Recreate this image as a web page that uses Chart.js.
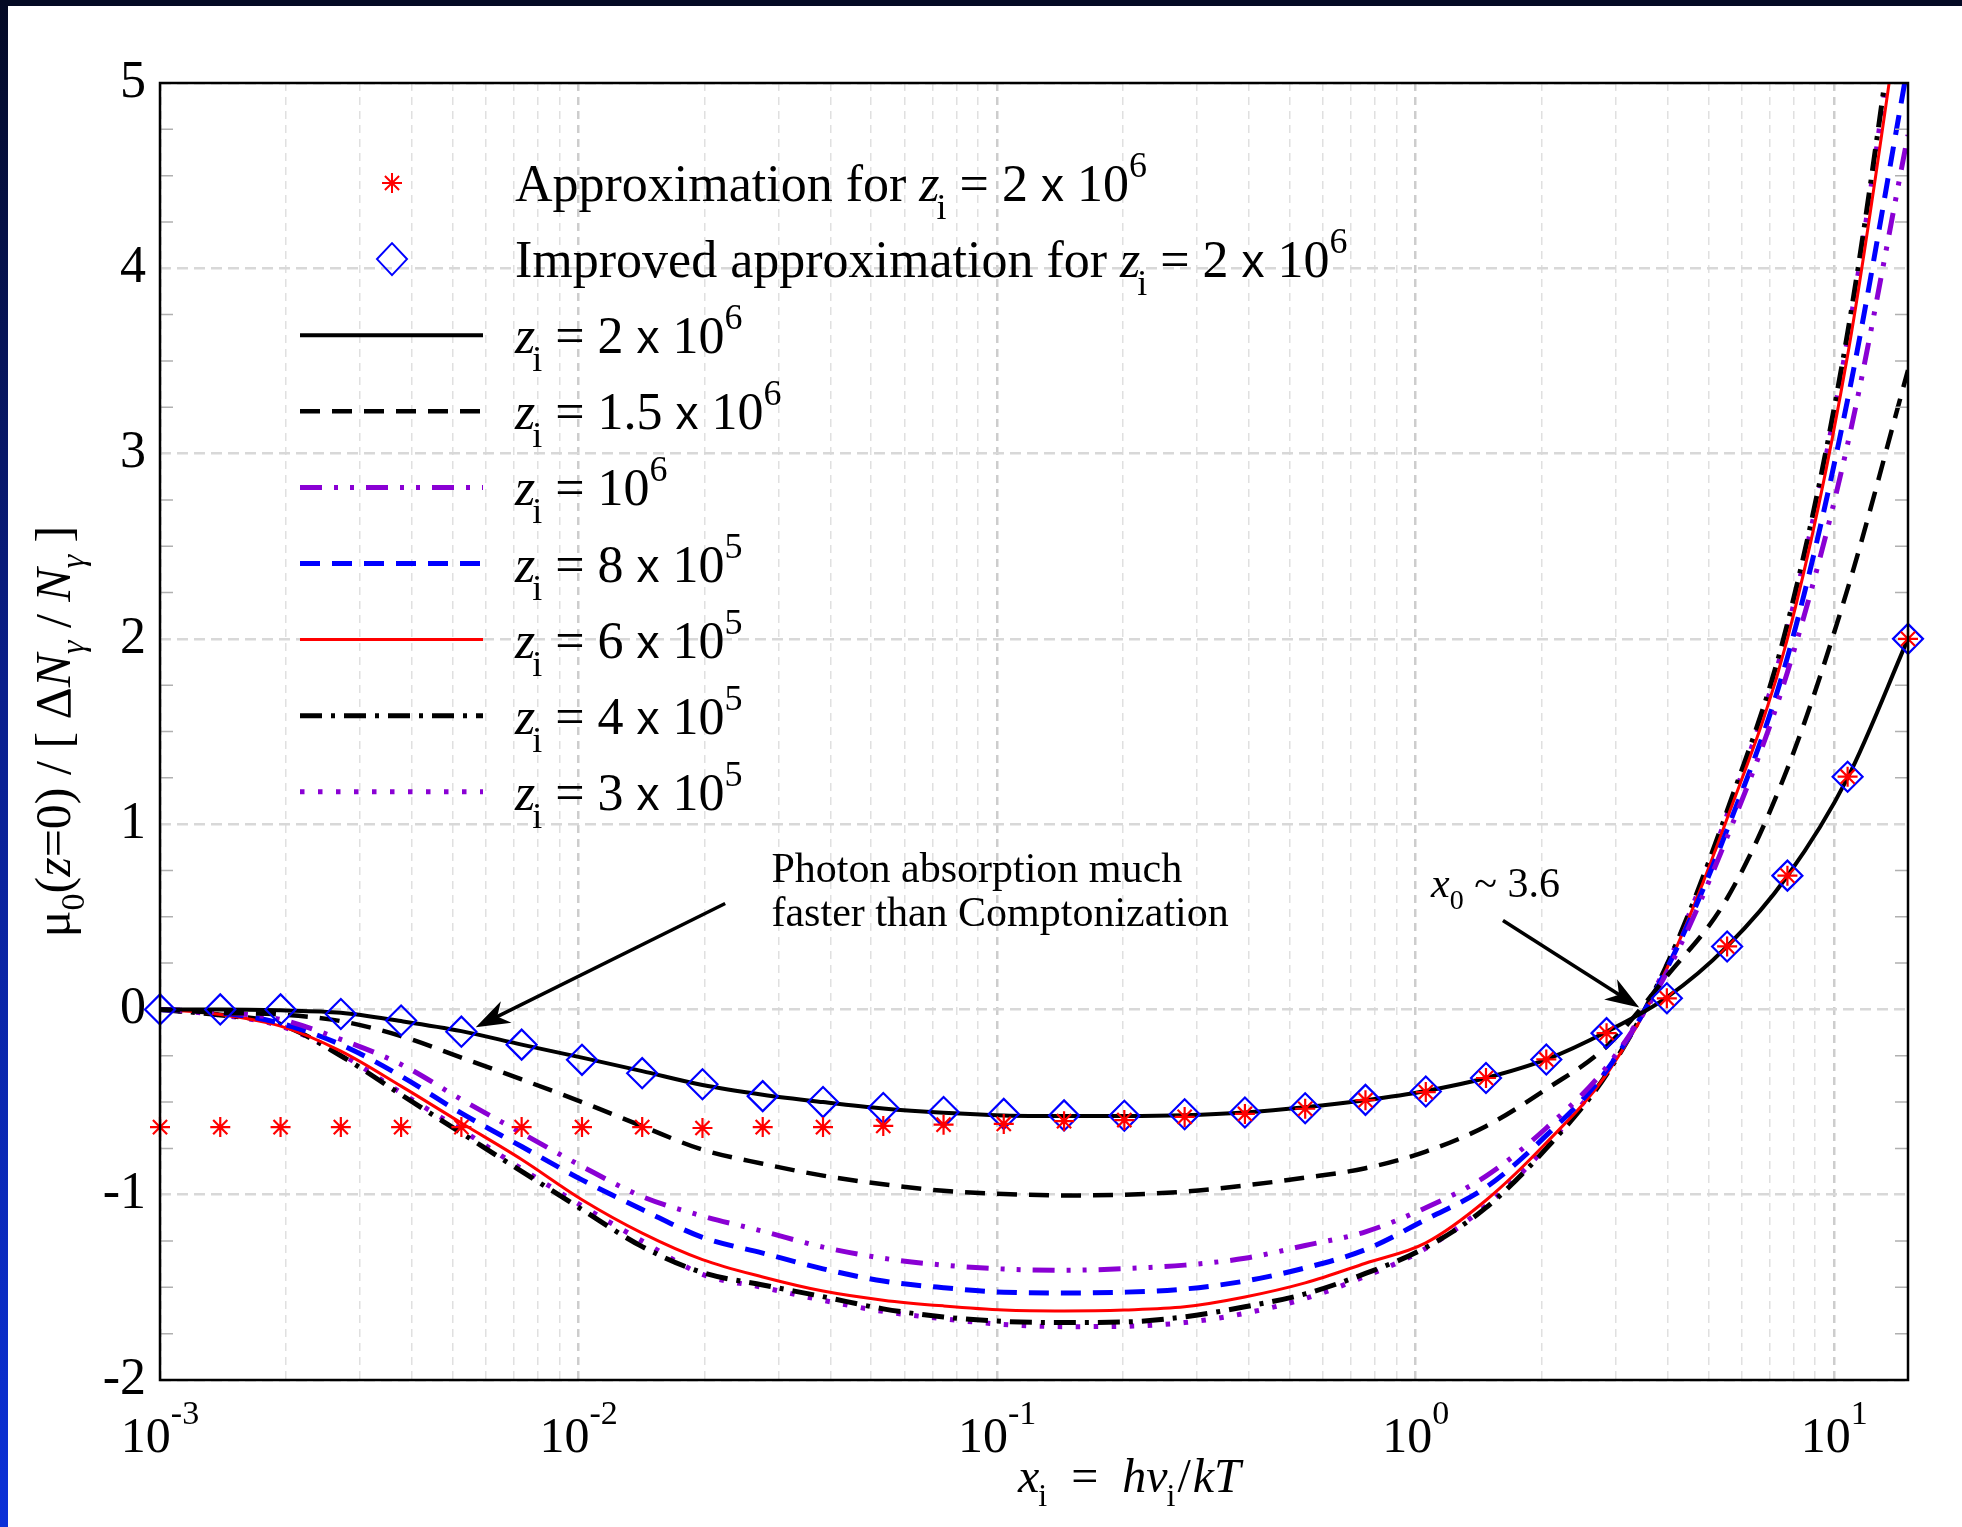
<!DOCTYPE html>
<html>
<head>
<meta charset="utf-8">
<script src="https://cdn.jsdelivr.net/npm/chart.js@4.4.1/dist/chart.umd.min.js"></script>
<style>
  html, body { margin: 0; padding: 0; background: #fff; }
  #wrap { position: relative; width: 1962px; height: 1527px; overflow: hidden; background: #fff; }
  #wrap canvas { position: absolute; left: 0; top: 0; }
  #bandTop { position: absolute; left: 0; top: 0; width: 1962px; height: 6px; background: #040a24; }
  #bandLeft { position: absolute; left: 0; top: 0; width: 8px; height: 1527px; background: linear-gradient(#040a24, #0a1f8c 45%, #0b31d8); }
</style>
</head>
<body>
<div id="wrap">
  <canvas id="chart" width="1962" height="1527"></canvas>
  <div id="bandTop"></div>
  <div id="bandLeft"></div>
</div>
<script>
// x_i = h nu_i / kT sample points (log spaced)
const xi = [0.001, 0.001393, 0.001941, 0.002704, 0.003767, 0.005248, 0.007311, 0.01019, 0.01419, 0.01977,
  0.02754, 0.03837, 0.05345, 0.07447, 0.1037, 0.1445, 0.2013, 0.2805, 0.3908, 0.5444,
  0.7585, 1.057, 1.472, 2.051, 2.857, 3.981, 5.546, 7.727, 10.76, 15.0]

const approx = [-0.635, -0.635, -0.635, -0.635, -0.635, -0.635, -0.635, -0.635, -0.635, -0.64,
  -0.635, -0.635, -0.629, -0.622, -0.618, -0.603, -0.597, -0.58, -0.564, -0.536,
  -0.49, -0.446, -0.37, -0.27, -0.128, 0.06, 0.34, 0.722, 1.256, 2.0]
const improved = [0, 0, 0, -0.025, -0.06, -0.12, -0.19, -0.272, -0.344, -0.404,
  -0.468, -0.5, -0.532, -0.554, -0.564, -0.572, -0.574, -0.566, -0.556, -0.533,
  -0.488, -0.443, -0.37, -0.27, -0.128, 0.06, 0.34, 0.722, 1.256, 2.0]

const z2e6 = [0, 0, -0.005, -0.018, -0.063, -0.117, -0.19, -0.26, -0.333, -0.408,
  -0.46, -0.5, -0.535, -0.558, -0.572, -0.575, -0.575, -0.571, -0.556, -0.528,
  -0.49, -0.44, -0.37, -0.27, -0.12, 0.065, 0.34, 0.72, 1.25, 2.0]
const z15e6 = [0, -0.018, -0.027, -0.063, -0.144, -0.26, -0.378, -0.5, -0.63, -0.757,
  -0.833, -0.897, -0.944, -0.979, -0.996, -1.004, -1.0, -0.983, -0.95, -0.908,
  -0.857, -0.767, -0.63, -0.43, -0.2, 0.18, 0.6, 1.3, 2.27, 3.45]
const z1e6 = [0, -0.015, -0.054, -0.162, -0.297, -0.486, -0.667, -0.847, -1.01, -1.115,
  -1.197, -1.283, -1.343, -1.38, -1.401, -1.408, -1.399, -1.38, -1.343, -1.274,
  -1.2, -1.07, -0.9, -0.64, -0.31, 0.2, 0.93, 1.82, 3.05, 4.72]
const z8e5 = [0, -0.018, -0.075, -0.19, -0.36, -0.56, -0.74, -0.92, -1.08, -1.23,
  -1.315, -1.4, -1.466, -1.502, -1.526, -1.53, -1.526, -1.509, -1.466, -1.395,
  -1.296, -1.134, -0.96, -0.68, -0.33, 0.22, 0.97, 1.9, 3.29, 5.1]
const z6e5 = [0, -0.027, -0.09, -0.225, -0.414, -0.613, -0.81, -1.027, -1.207, -1.35,
  -1.444, -1.52, -1.569, -1.6, -1.622, -1.627, -1.622, -1.605, -1.552, -1.476,
  -1.37, -1.26, -1.03, -0.72, -0.35, 0.22, 1.03, 2.0, 3.53, 5.7]
const z4e5 = [0, -0.03, -0.08, -0.25, -0.46, -0.667, -0.874, -1.08, -1.28, -1.42,
  -1.487, -1.55, -1.616, -1.66, -1.684, -1.69, -1.687, -1.659, -1.605, -1.535,
  -1.425, -1.285, -1.07, -0.75, -0.35, 0.24, 1.07, 2.08, 3.65, 5.9]
const z3e5 = [0, -0.03, -0.09, -0.24, -0.45, -0.65, -0.86, -1.06, -1.25, -1.43,
  -1.5, -1.57, -1.63, -1.67, -1.7, -1.712, -1.71, -1.69, -1.64, -1.56,
  -1.44, -1.29, -1.06, -0.74, -0.33, 0.24, 1.05, 2.05, 3.62, 5.85]

// legend text: prefix, mantissa, power of ten
const legendPrefix = ['Approximation for ', 'Improved approximation for ', '', '', '', '', '', '', '']
const legendMantissa = ['2', '2', '2', '1.5', '', '8', '6', '4', '3']
const legendExponent = ['6', '6', '6', '6', '6', '5', '5', '5', '5']

// x axis decade labels
const xLabelValues = [0.001, 0.01, 0.1, 1, 10]
const xLabelExponents = ['-3', '-2', '-1', '0', '1']

const SERIF = '"Liberation Serif", "Times New Roman", Times, serif'
const SANS = '"Liberation Sans", Arial, sans-serif'
const rom = s => s + 'px ' + SERIF
const ita = s => 'italic ' + s + 'px ' + SERIF

const pts = ys => xi.map((x, k) => ({ x: x, y: ys[k] }))

// parts: [text, font, dy, kern]
function drawRich(ctx, x, y, parts) {
  let cx = x
  for (const p of parts) {
    ctx.font = p[1]
    cx += (p[3] || 0)
    ctx.fillText(p[0], cx, y + (p[2] || 0))
    cx += ctx.measureText(p[0]).width
  }
  return cx
}

function richWidth(ctx, parts) {
  let w = 0
  for (const p of parts) {
    ctx.font = p[1]
    w += ctx.measureText(p[0]).width + (p[3] || 0)
  }
  return w
}

function zParts(prefix, mant, exp) {
  const parts = []
  if (prefix) parts.push([prefix, rom(52)])
  parts.push(['z', ita(52)], ['i', rom(36), 18, -3], [' = ', rom(52)])
  if (mant) parts.push([mant + ' ', rom(52)], ['x', '46px ' + SANS], [' ', rom(52)])
  parts.push(['10', rom(52)], [exp, rom(36), -24])
  return parts
}

function arrow(ctx, x1, y1, x2, y2) {
  const a = Math.atan2(y2 - y1, x2 - x1)
  ctx.beginPath()
  ctx.moveTo(x1, y1)
  ctx.lineTo(x2 - 20 * Math.cos(a), y2 - 20 * Math.sin(a))
  ctx.stroke()
  ctx.save()
  ctx.translate(x2, y2)
  ctx.rotate(a)
  ctx.beginPath()
  ctx.moveTo(0, 0)
  ctx.lineTo(-34, -12)
  ctx.lineTo(-24, 0)
  ctx.lineTo(-34, 12)
  ctx.closePath()
  ctx.fill()
  ctx.restore()
}

const decor = {
  id: 'decor',
  afterDraw(chart) {
    const { ctx, chartArea: area, scales: { x, y } } = chart
    ctx.save()

    // minor y ticks (both sides)
    ctx.strokeStyle = '#b0b0b0'
    ctx.lineWidth = 1.5
    for (let v = -2; v <= 5; v += 0.25) {
      if (Number.isInteger(v)) continue
      const py = y.getPixelForValue(v)
      ctx.beginPath()
      ctx.moveTo(area.left, py); ctx.lineTo(area.left + 13, py)
      ctx.moveTo(area.right - 13, py); ctx.lineTo(area.right, py)
      ctx.stroke()
    }

    // frame
    ctx.strokeStyle = '#000'
    ctx.lineWidth = 2.5
    ctx.strokeRect(area.left, area.top, area.right - area.left, area.bottom - area.top)

    // x tick labels 10^n
    ctx.fillStyle = '#000'
    ctx.textBaseline = 'alphabetic'
    xLabelValues.forEach((v, i) => {
      const parts = [['10', rom(50)], [xLabelExponents[i], rom(34), -28]]
      const w = richWidth(ctx, parts)
      drawRich(ctx, x.getPixelForValue(v) - w / 2, area.bottom + 72, parts)
    })

    // x title
    drawRich(ctx, area.left + 858, area.bottom + 112, [
      ['x', ita(48)], ['i', rom(32), 14, -1], ['=', rom(48), 0, 24],
      ['h', ita(48), 0, 24], ['\u03bd', ita(48)], ['i', rom(32), 14, -1], ['/', rom(48), 0, 2],
      ['k', ita(48), 0, 2], ['T', ita(48)]
    ])

    // y title (rotated)
    const yParts = [
      ['\u03bc', rom(50)], ['0', rom(34), 14], ['(', rom(50)], ['z', ita(50)], ['=0) / [ \u0394', rom(50)],
      ['N', ita(50)], ['\u03b3', ita(34), 14], [' / ', rom(50)], ['N', ita(50)], ['\u03b3', ita(34), 14],
      [' ]', rom(50)]
    ]
    ctx.save()
    ctx.translate(70, (area.top + area.bottom) / 2)
    ctx.rotate(-Math.PI / 2)
    drawRich(ctx, -richWidth(ctx, yParts) / 2, 0, yParts)
    ctx.restore()

    // legend
    chart.data.datasets.forEach((d, i) => {
      const ly = area.top + 100 + i * 76.1
      ctx.save()
      if (d.showLine === false) {
        ctx.lineWidth = 2
        ctx.strokeStyle = d.pointBorderColor
        ctx.beginPath()
        const cx = area.left + 232
        if (d.pointStyle === 'star') {
          const r = 10
          ctx.moveTo(cx, ly - r); ctx.lineTo(cx, ly + r)
          ctx.moveTo(cx - r, ly); ctx.lineTo(cx + r, ly)
          const q = r * Math.SQRT1_2
          ctx.moveTo(cx - q, ly - q); ctx.lineTo(cx + q, ly + q)
          ctx.moveTo(cx - q, ly + q); ctx.lineTo(cx + q, ly - q)
        } else {
          ctx.moveTo(cx, ly - 16); ctx.lineTo(cx + 15, ly)
          ctx.lineTo(cx, ly + 16); ctx.lineTo(cx - 15, ly); ctx.closePath()
        }
        ctx.stroke()
      } else {
        ctx.strokeStyle = d.borderColor
        ctx.lineWidth = d.borderWidth
        ctx.setLineDash(d.borderDash || [])
        ctx.beginPath()
        ctx.moveTo(area.left + 140, ly)
        ctx.lineTo(area.left + 323, ly)
        ctx.stroke()
      }
      ctx.restore()
      drawRich(ctx, area.left + 355, ly + 18, zParts(legendPrefix[i], legendMantissa[i], legendExponent[i]))
    })

    // annotations
    ctx.strokeStyle = '#000'
    ctx.fillStyle = '#000'
    ctx.lineWidth = 3.5
    arrow(ctx, x.getPixelForValue(0.0224), y.getPixelForValue(0.572), x.getPixelForValue(0.00568), y.getPixelForValue(-0.096))
    arrow(ctx, x.getPixelForValue(1.616), y.getPixelForValue(0.48), x.getPixelForValue(3.42), y.getPixelForValue(0.01))
    ctx.font = rom(42)
    ctx.fillText('Photon absorption much', x.getPixelForValue(0.0289), y.getPixelForValue(0.686))
    ctx.fillText('faster than Comptonization', x.getPixelForValue(0.0289), y.getPixelForValue(0.448))
    drawRich(ctx, x.getPixelForValue(1.088), y.getPixelForValue(0.605), [
      ['x', ita(42)], ['0', rom(28), 12], [' ~ 3.6', rom(42)]
    ])

    ctx.restore()
  }
}

const lineSet = (data, color, width, dash) => ({
  data: pts(data),
  borderColor: color,
  borderWidth: width,
  borderDash: dash,
  borderCapStyle: 'butt',
  pointRadius: 0,
  fill: false,
  cubicInterpolationMode: 'monotone'
})

new Chart(document.getElementById('chart'), {
  type: 'line',
  data: {
    datasets: [
      {
        data: pts(approx),
        showLine: false,
        pointStyle: 'star',
        pointRadius: 10,
        pointBorderWidth: 2.2,
        pointBorderColor: '#ff0000',
        pointBackgroundColor: 'rgba(0,0,0,0)',
        clip: false
      },
      {
        data: pts(improved),
        showLine: false,
        pointStyle: 'rectRot',
        pointRadius: 15,
        pointBorderWidth: 2.2,
        pointBorderColor: '#0000ff',
        pointBackgroundColor: 'rgba(0,0,0,0)',
        clip: false
      },
      lineSet(z2e6, '#000000', 4, []),
      lineSet(z15e6, '#000000', 4.5, [20, 12]),
      lineSet(z1e6, '#8a00d4', 5, [22, 12, 4, 12, 4, 12]),
      lineSet(z8e5, '#0000ff', 5, [20, 12]),
      lineSet(z6e5, '#ff0000', 3, []),
      lineSet(z4e5, '#000000', 5, [22, 9, 4, 9]),
      lineSet(z3e5, '#8a00d4', 5, [4.5, 13.5])
    ]
  },
  options: {
    responsive: false,
    animation: false,
    devicePixelRatio: 1,
    events: [],
    layout: { padding: { left: 0, top: 83, right: 54, bottom: 0 } },
    plugins: { legend: { display: false }, tooltip: { enabled: false } },
    scales: {
      x: {
        type: 'logarithmic',
        min: 0.001,
        max: 15,
        afterBuildTicks: axis => {
          const ticks = []
          for (let e = -3; e <= 1; e++) {
            for (let m = 1; m <= 9; m++) {
              const v = m * Math.pow(10, e)
              if (v <= 15.0001) ticks.push({ value: v, major: m === 1 })
            }
          }
          axis.ticks = ticks
        },
        afterFit: axis => { axis.height = 147 },
        ticks: { display: false },
        grid: {
          drawTicks: false,
          color: c => (c.tick && c.tick.major) ? '#cdcdcd' : '#e0e0e0',
          lineWidth: c => (c.tick && c.tick.major) ? 2.5 : 1.5
        },
        border: { display: false, dash: [8, 6] }
      },
      y: {
        min: -2,
        max: 5,
        afterFit: axis => { axis.width = 160 },
        ticks: {
          stepSize: 1,
          color: '#000',
          padding: 14,
          font: { family: SERIF, size: 52 }
        },
        grid: { drawTicks: false, color: '#d8d8d8', lineWidth: 2.5 },
        border: { display: false, dash: [11, 6] }
      }
    }
  },
  plugins: [decor]
})
</script>
</body>
</html>
